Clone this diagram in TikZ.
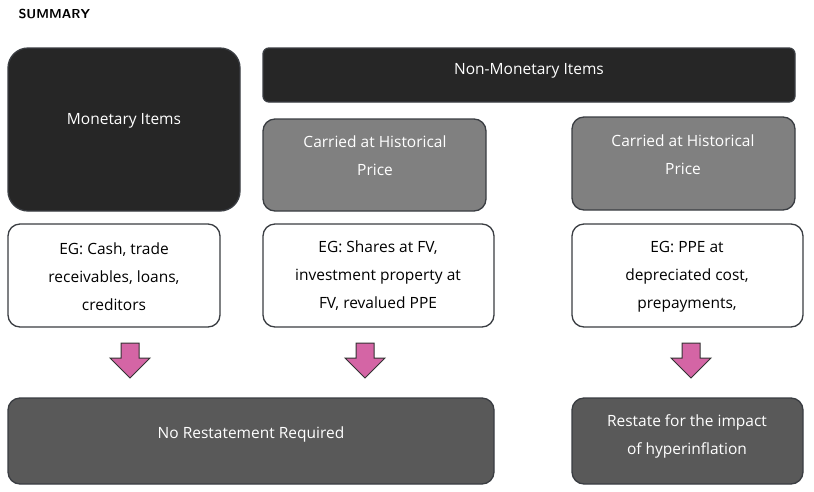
\documentclass[tikz,border=0pt]{standalone}
\usepackage{fontspec}
\setmainfont{Open Sans}
\begin{document}
\begin{tikzpicture}[x=1pt,y=-1pt,
 box/.style={draw=black!85!cyan,line width=1.3pt,rounded corners=#1,align=center,text=white,font=\fontsize{15.5}{28}\selectfont},
 wbox/.style={draw=black!85!cyan,line width=1.3pt,fill=white,rounded corners=12pt,align=center,font=\fontsize{15.5}{28}\selectfont},
 arr/.style={draw=black!80,line width=1pt,fill=magenta!55!violet!70,line join=miter}]
\useasboundingbox (0,0) rectangle (814,491);
\node[font=\sffamily\bfseries\fontsize{13}{15}\selectfont,anchor=west] (t) at (15,14) {SUMMARY};
\draw[box=20pt,fill=black!85] (8,48) rectangle (240,211);
\node[text=white,font=\fontsize{15.5}{20}\selectfont] (m) at (124,121) {Monetary Items};
\draw[box=6pt,fill=black!85] (263,48) rectangle (795,102);
\node[text=white,font=\fontsize{15.5}{20}\selectfont] (nm) at (529,71) {Non-Monetary Items};
\draw[box=12pt,fill=black!50] (263,119) rectangle (486,211);
\node[text=white,align=center,font=\fontsize{15.5}{28}\selectfont] (c1) at (375,156) {Carried at Historical\\Price};
\draw[box=12pt,fill=black!50] (572,117) rectangle (795,210);
\node[text=white,align=center,font=\fontsize{15.5}{28}\selectfont] (c2) at (683,155) {Carried at Historical\\Price};
\draw[wbox] (8,224) rectangle (220,327);
\node[align=center,font=\fontsize{15.5}{28}\selectfont] (e1) at (114,277) {EG: Cash, trade\\receivables, loans,\\creditors};
\draw[wbox] (263,224) rectangle (494,327);
\node[align=center,font=\fontsize{15.5}{28}\selectfont] (e2) at (378,276) {EG: Shares at FV,\\investment property at\\FV, revalued PPE};
\draw[wbox] (572,224) rectangle (803,327);
\node[align=center,font=\fontsize{15.5}{28}\selectfont] (e3) at (687,277) {EG: PPE at\\depreciated cost,\\prepayments,};
\foreach \cx in {130,365,691}{
 \draw[arr] (\cx-9,343) -- (\cx+9,343) -- (\cx+9,358) -- (\cx+20,358) -- (\cx,378) -- (\cx-20,358) -- (\cx-9,358) -- cycle;}
\draw[box=12pt,fill=black!65] (8,398) rectangle (494,484);
\node[text=white,font=\fontsize{15.5}{20}\selectfont] (n) at (251,434) {No Restatement Required};
\draw[box=12pt,fill=black!65] (572,398) rectangle (803,484);
\node[text=white,align=center,font=\fontsize{15.5}{28}\selectfont] (r) at (687,436) {Restate for the impact\\of hyperinflation};
\end{tikzpicture}
\end{document}
